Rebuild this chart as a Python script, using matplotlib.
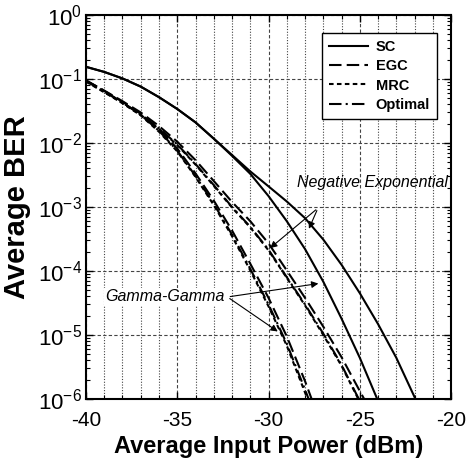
import matplotlib
matplotlib.use("Agg")
import matplotlib.pyplot as plt
from matplotlib.ticker import LogLocator, MultipleLocator, NullFormatter

plt.rcParams["font.family"] = ["Liberation Sans", "DejaVu Sans"]
plt.rcParams["mathtext.fontset"] = "custom"
plt.rcParams["mathtext.rm"] = "Liberation Sans"

# ---- data (average input power in dBm, average BER) ----
sc_gg_x = [-40, -39, -38, -37, -36, -35, -34, -33, -32, -31, -30, -29, -28, -27, -26, -25, -24, -23]
sc_gg_ber = [1.55e-1, 1.29e-1, 1.02e-1, 7.6e-2, 5.2e-2, 3.4e-2, 2.1e-2, 1.17e-2, 6.3e-3, 3.3e-3,
             1.48e-3, 6.0e-4, 2.2e-4, 6.8e-5, 1.8e-5, 4.4e-6, 9.3e-7, 2.0e-7]

sc_ne_x = [-40, -39, -38, -37, -36, -35, -34, -33, -32, -31, -30, -29, -28, -27, -26, -25, -24, -23, -22, -21]
sc_ne_ber = [1.55e-1, 1.29e-1, 1.02e-1, 7.6e-2, 5.2e-2, 3.4e-2, 2.1e-2, 1.17e-2, 6.5e-3, 3.6e-3,
             2.1e-3, 1.22e-3, 6.7e-4, 3.1e-4, 1.25e-4, 4.5e-5, 1.48e-5, 4.4e-6, 1.07e-6, 2.5e-7]

gg_x = [-40, -39, -38, -37, -36, -35, -34, -33, -32, -31, -30, -29, -28, -27]
gg_egc = [9.4e-2, 6.5e-2, 4.4e-2, 2.85e-2, 1.62e-2, 8.2e-3, 3.35e-3, 1.26e-3, 4.3e-4, 1.3e-4,
          3.8e-5, 9.5e-6, 1.9e-6, 3.2e-7]
gg_mrc = [9.3e-2, 6.3e-2, 4.2e-2, 2.7e-2, 1.5e-2, 7.4e-3, 2.95e-3, 1.07e-3, 3.5e-4, 1.02e-4,
          2.8e-5, 6.8e-6, 1.26e-6, 2.2e-7]
gg_opt = [9.5e-2, 6.5e-2, 4.3e-2, 2.75e-2, 1.55e-2, 7.6e-3, 3.05e-3, 1.12e-3, 3.7e-4, 1.08e-4,
          3.0e-5, 7.3e-6, 1.4e-6, 2.5e-7]

ne_x = [-40, -39, -38, -37, -36, -35, -34, -33, -32, -31, -30, -29, -28, -27, -26, -25, -24]
ne_egc = [9.5e-2, 6.6e-2, 4.5e-2, 3.0e-2, 1.84e-2, 1.05e-2, 5.4e-3, 2.55e-3, 1.2e-3, 6.0e-4,
          2.7e-4, 1.02e-4, 3.8e-5, 1.35e-5, 4.5e-6, 1.33e-6, 4.0e-7]
ne_mrc = [9.1e-2, 6.2e-2, 4.2e-2, 2.75e-2, 1.66e-2, 9.3e-3, 4.6e-3, 2.14e-3, 9.8e-4, 4.8e-4,
          2.1e-4, 7.8e-5, 2.9e-5, 1.0e-5, 3.3e-6, 9.0e-7, 2.5e-7]
ne_opt = [9.3e-2, 6.3e-2, 4.3e-2, 2.8e-2, 1.7e-2, 9.5e-3, 4.7e-3, 2.2e-3, 1.0e-3, 4.9e-4,
          2.15e-4, 8.0e-5, 3.0e-5, 1.05e-5, 3.4e-6, 9.3e-7, 2.6e-7]

x_ticks = [-40, -35, -30, -25, -20]
y_ticks = [1e-6, 1e-5, 1e-4, 1e-3, 1e-2, 1e-1, 1e0]

egc_dash = (0, (6, 2.5))
mrc_dash = (0, (2.2, 1.6))
opt_dash = (0, (6, 2, 1, 2))

fig = plt.figure(figsize=(4.66, 4.66), dpi=100)
ax = fig.add_axes([0.1845, 0.1438, 0.7835, 0.824])

lw = 1.5
ax.plot(sc_gg_x, sc_gg_ber, color="black", lw=lw, ls="-", label="SC")
ax.plot(sc_ne_x, sc_ne_ber, color="black", lw=lw, ls="-")
ax.plot(gg_x, gg_egc, color="black", lw=lw, ls=egc_dash, label="EGC")
ax.plot(gg_x, gg_mrc, color="black", lw=lw, ls=mrc_dash, label="MRC")
ax.plot(gg_x, gg_opt, color="black", lw=lw, ls=opt_dash, label="Optimal")
ax.plot(ne_x, ne_egc, color="black", lw=lw, ls=egc_dash)
ax.plot(ne_x, ne_mrc, color="black", lw=lw, ls=mrc_dash)
ax.plot(ne_x, ne_opt, color="black", lw=lw, ls=opt_dash)

ax.set_yscale("log")
ax.set_xlim(-40, -20)
ax.set_ylim(1e-6, 1)
ax.set_xticks(x_ticks)
ax.set_xticklabels([str(t) for t in x_ticks])
ax.xaxis.set_minor_locator(MultipleLocator(1))
ax.set_yticks(y_ticks)
ax.set_yticklabels([r"$10^{%d}$" % e for e in range(-6, 1)])
ax.yaxis.set_minor_locator(LogLocator(base=10, subs=range(2, 10), numticks=20))
ax.yaxis.set_minor_formatter(NullFormatter())

ax.tick_params(which="both", direction="in", top=True, right=True)
ax.tick_params(axis="x", labelsize=15, pad=9)
ax.tick_params(axis="y", labelsize=16, pad=3)
ax.tick_params(which="major", length=5, width=1)
ax.tick_params(which="minor", length=3, width=0.8)

# grid: dashed at decades / every 5 dB, dotted every 1 dB
ax.grid(True, which="major", axis="both", color="#444444", ls=(0, (3, 2)), lw=0.8)
ax.grid(True, which="minor", axis="x", color="#444444", ls=(0, (1, 1.5)), lw=0.8)
for s in ax.spines.values():
    s.set_linewidth(1.5)

ax.set_xlabel("Average Input Power (dBm)", fontsize=17, fontweight="bold", labelpad=3)
ax.set_ylabel("Average BER", fontsize=21, fontweight="bold", labelpad=5)

leg = ax.legend(loc="upper right", bbox_to_anchor=(0.962, 0.953), borderaxespad=0,
                prop={"weight": "bold", "size": 10.5}, handlelength=2.7,
                frameon=True, fancybox=False, edgecolor="black", framealpha=1,
                borderpad=0.5, labelspacing=0.35, handletextpad=0.5)
leg.get_frame().set_linewidth(1.0)

# annotations
ax.text(-20.2, 10 ** -2.625, "Negative Exponential", fontsize=11.5, style="italic",
        ha="right", va="center")
arrow = dict(arrowstyle="-|>", color="black", lw=0.8, mutation_scale=10)
ax.annotate("", xy=(-27.85, 10 ** -3.38), xytext=(-27.29, 10 ** -3.016), arrowprops=arrow)
ax.annotate("", xy=(-30.03, 10 ** -3.67), xytext=(-27.29, 10 ** -3.016), arrowprops=arrow)

ax.text(-32.4, 10 ** -4.406, "Gamma-Gamma", fontsize=11.5, style="italic",
        ha="right", va="center", bbox=dict(facecolor="white", edgecolor="none", pad=1))
ax.annotate("", xy=(-27.12, 10 ** -4.19), xytext=(-32.25, 10 ** -4.406), arrowprops=arrow)
ax.annotate("", xy=(-29.37, 10 ** -4.97), xytext=(-32.25, 10 ** -4.406), arrowprops=arrow)

fig.savefig("out.png", dpi=100)
